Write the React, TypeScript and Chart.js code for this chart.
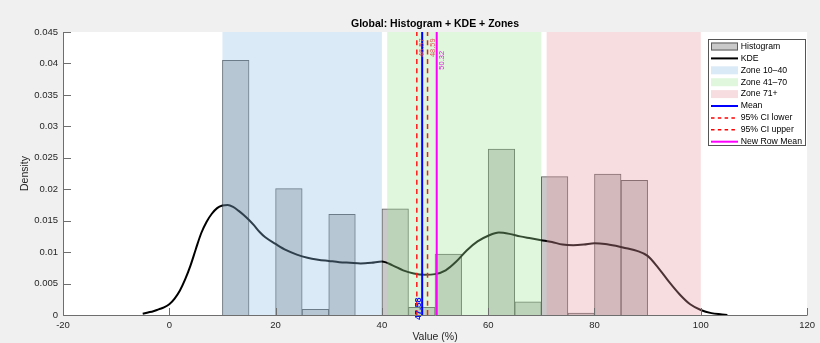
import React, { useEffect, useRef } from 'react';
import { Chart, registerables } from 'chart.js';

Chart.register(...registerables);

// ---------- data ----------
const binStarts = [10, 15, 20, 25, 30, 35, 40, 45, 50, 55, 60, 65, 70, 75, 80, 85];
const binDensity = [0.0405, 0, 0.0201, 0.0009, 0.016, 0, 0.0169, 0.0012, 0.0097, 0, 0.0264, 0.0021, 0.022, 0.0003, 0.0224, 0.0214];
const binWidth = 5;

const kdeX = [-5, -4, -3, -2, -1, 0, 1, 2, 3, 4, 5, 6, 7, 8, 9, 10, 11, 12, 13, 14, 15, 16, 17, 18, 20, 22, 24, 26, 28, 30, 32, 34, 36, 38, 40, 42, 44, 46, 48, 50, 52, 54, 56, 58, 60, 62, 64, 66, 68, 70, 72, 74, 76, 78, 80, 82, 84, 86, 88, 90, 92, 94, 96, 98, 100, 102, 104, 105];
const kdeY = [0.0002, 0.0004, 0.0006, 0.0009, 0.0012, 0.0017, 0.0026, 0.0039, 0.0057, 0.0079, 0.0105, 0.013, 0.0148, 0.0161, 0.017, 0.0174, 0.0175, 0.0172, 0.0166, 0.0159, 0.0151, 0.0142, 0.0132, 0.0124, 0.0113, 0.0103, 0.0096, 0.0091, 0.0088, 0.0086, 0.0084, 0.0083, 0.0082, 0.0083, 0.0085, 0.0079, 0.0071, 0.0066, 0.0064, 0.0065, 0.0071, 0.0085, 0.0103, 0.0117, 0.0126, 0.0131, 0.0129, 0.0125, 0.0122, 0.0119, 0.0116, 0.0112, 0.0111, 0.0112, 0.0114, 0.0113, 0.011, 0.0106, 0.0102, 0.0094, 0.0075, 0.0053, 0.0033, 0.0017, 0.0008, 0.0003, 0.0001, 0];

const zoneNames = ['Zone 10–40', 'Zone 41–70', 'Zone 71+'];
const zoneStart = [10, 41, 71];
const zoneEnd = [40, 70, 100];

const meanValue = 47.58;
const ciLower = 46.57;
const ciUpper = 48.59;
const newRowMean = 50.32;

const xTicks = [-20, 0, 20, 40, 60, 80, 100, 120];
const xTickLabels = ['-20', '0', '20', '40', '60', '80', '100', '120'];
const yTicks = [0, 0.005, 0.01, 0.015, 0.02, 0.025, 0.03, 0.035, 0.04, 0.045];
const yTickLabels = ['0', '0.005', '0.01', '0.015', '0.02', '0.025', '0.03', '0.035', '0.04', '0.045'];

const titleText = 'Global: Histogram + KDE + Zones';
const xLabel = 'Value (%)';
const yLabel = 'Density';

// ---------- styles ----------
const FONT = '"Liberation Sans", Arial, Helvetica, sans-serif';
const zoneColors = ['rgba(146,191,230,0.33)', 'rgba(161,231,155,0.33)', 'rgba(231,152,158,0.33)'];
const histFill = '#c9c9c9';
const histEdge = '#5c5c5c';
const axisColor = '#6e6e6e';
const textColor = '#262626';

export default function App() {
  const ref = useRef<HTMLCanvasElement | null>(null);

  useEffect(() => {
    document.body.style.margin = '0';
    const canvas = ref.current;
    if (!canvas) return;

    const histData = binStarts
      .map((s, i) => ({ x: s + binWidth / 2, y: binDensity[i] }))
      .filter((d) => d.y > 0);
    const kdeData = kdeX.map((x, i) => ({ x, y: kdeY[i] }));
    const yMax = yTicks[yTicks.length - 1];
    const vline = (v: number) => [{ x: v, y: 0 }, { x: v, y: yMax }];

    const drawRot = (ctx: CanvasRenderingContext2D, text: string, x: number, y: number, align: CanvasTextAlign, baseline: CanvasTextBaseline, font: string, color: string) => {
      ctx.save();
      ctx.translate(x, y);
      ctx.rotate(-Math.PI / 2);
      ctx.font = font;
      ctx.fillStyle = color;
      ctx.textAlign = align;
      ctx.textBaseline = baseline;
      ctx.fillText(text, 0, 0);
      ctx.restore();
    };

    const plugin = {
      id: 'matlabLook',
      beforeDraw(chart: any) {
        const { ctx, chartArea: a } = chart;
        ctx.save();
        ctx.fillStyle = '#f0f0f0';
        ctx.fillRect(0, 0, chart.width, chart.height);
        ctx.fillStyle = '#ffffff';
        ctx.fillRect(a.left, a.top, a.right - a.left, a.bottom - a.top);
        ctx.restore();
      },
      afterDatasetDraw(chart: any, args: any) {
        if (args.index !== 1) return;
        const { ctx } = chart;
        const xs = chart.scales.x;
        const ys = chart.scales.y;
        const top = ys.getPixelForValue(yMax);
        const bottom = ys.getPixelForValue(0);
        ctx.save();
        zoneStart.forEach((s, i) => {
          const x0 = xs.getPixelForValue(s);
          const x1 = xs.getPixelForValue(zoneEnd[i]);
          ctx.fillStyle = zoneColors[i];
          ctx.fillRect(x0, top, x1 - x0, bottom - top);
        });
        ctx.restore();
      },
      afterDatasetsDraw(chart: any) {
        const { ctx, chartArea: a } = chart;
        const xs = chart.scales.x;
        const ys = chart.scales.y;
        // line value labels
        drawRot(ctx, ciLower.toFixed(2), xs.getPixelForValue(ciLower) + 1.5, ys.getPixelForValue(0.044), 'right', 'top', `7.5px ${FONT}`, '#e05555');
        drawRot(ctx, ciUpper.toFixed(2), xs.getPixelForValue(ciUpper) + 1.5, ys.getPixelForValue(0.044), 'right', 'top', `7.5px ${FONT}`, '#e05555');
        drawRot(ctx, newRowMean.toFixed(2), xs.getPixelForValue(newRowMean) + 1.5, ys.getPixelForValue(0.042), 'right', 'top', `7.5px ${FONT}`, '#e020e0');
        drawRot(ctx, meanValue.toFixed(2), xs.getPixelForValue(meanValue) - 1.5, ys.getPixelForValue(0) + 5, 'left', 'alphabetic', `bold 9px ${FONT}`, '#1010ee');

        // axes lines and inward ticks
        ctx.save();
        ctx.strokeStyle = axisColor;
        ctx.lineWidth = 1;
        const L = Math.round(a.left) + 0.5;
        const B = Math.round(a.bottom) + 0.5;
        ctx.beginPath();
        ctx.moveTo(L, a.top);
        ctx.lineTo(L, B);
        ctx.lineTo(a.right, B);
        xTicks.forEach((v) => {
          const px = Math.round(xs.getPixelForValue(v)) + 0.5;
          ctx.moveTo(px, B);
          ctx.lineTo(px, B - 7.5);
        });
        yTicks.forEach((v) => {
          const py = Math.round(ys.getPixelForValue(v)) + 0.5;
          ctx.moveTo(L, py);
          ctx.lineTo(L + 7.5, py);
        });
        ctx.stroke();
        ctx.restore();
      },
      afterDraw(chart: any) {
        const { ctx, chartArea: a } = chart;
        const cx = (a.left + a.right) / 2;
        ctx.save();
        ctx.fillStyle = '#000';
        ctx.font = `bold 10.5px ${FONT}`;
        ctx.textAlign = 'center';
        ctx.textBaseline = 'middle';
        ctx.fillText(titleText, cx, 24);
        ctx.fillStyle = textColor;
        ctx.font = `10.5px ${FONT}`;
        ctx.fillText(xLabel, cx, 337.5);
        ctx.restore();
        drawRot(ctx, yLabel, 25, (a.top + a.bottom) / 2, 'center', 'middle', `10.5px ${FONT}`, textColor);

        // legend
        const items: { label: string; kind: string; color: string; dash?: number[] }[] = [
          { label: 'Histogram', kind: 'hist', color: histFill },
          { label: 'KDE', kind: 'line', color: '#000000' },
          ...zoneNames.map((n, i) => ({ label: n, kind: 'patch', color: zoneColors[i] })),
          { label: 'Mean', kind: 'line', color: '#0000ff' },
          { label: '95% CI lower', kind: 'dash', color: '#ff0000' },
          { label: '95% CI upper', kind: 'dash', color: '#ff0000' },
          { label: 'New Row Mean', kind: 'line', color: '#ff00ff' },
        ];
        const bx = 708.5, by = 39.5, bw = 97, bh = 106;
        const row0 = 46.5, rowH = 11.9;
        ctx.save();
        ctx.fillStyle = '#ffffff';
        ctx.fillRect(bx, by, bw, bh);
        ctx.strokeStyle = '#555555';
        ctx.lineWidth = 1;
        ctx.strokeRect(bx, by, bw, bh);
        items.forEach((it, i) => {
          const y = row0 + i * rowH;
          const x0 = 711, x1 = 738;
          if (it.kind === 'hist') {
            ctx.fillStyle = it.color;
            ctx.fillRect(x0, y - 4, x1 - x0, 8);
            ctx.strokeStyle = histEdge;
            ctx.lineWidth = 1;
            ctx.strokeRect(x0 + 0.5, y - 3.5, x1 - x0 - 1, 7);
          } else if (it.kind === 'patch') {
            ctx.fillStyle = it.color;
            ctx.fillRect(x0, y - 4, x1 - x0, 8);
          } else {
            ctx.strokeStyle = it.color;
            ctx.lineWidth = it.kind === 'dash' ? 1.5 : 2;
            ctx.setLineDash(it.kind === 'dash' ? [3.5, 3.3] : []);
            ctx.beginPath();
            ctx.moveTo(x0, y);
            ctx.lineTo(x1, y);
            ctx.stroke();
            ctx.setLineDash([]);
          }
          ctx.fillStyle = '#000000';
          ctx.font = `8.7px ${FONT}`;
          ctx.textAlign = 'left';
          ctx.textBaseline = 'middle';
          ctx.fillText(it.label, 740.7, y);
        });
        ctx.restore();
      },
    };

    const chart = new Chart(canvas, {
      type: 'bar',
      data: {
        datasets: [
          {
            type: 'bar',
            label: 'Histogram',
            data: histData as any,
            backgroundColor: histFill,
            borderColor: histEdge,
            borderWidth: 1,
            barPercentage: 1,
            categoryPercentage: 1,
            order: 10,
          },
          {
            type: 'line',
            label: 'KDE',
            data: kdeData as any,
            borderColor: '#000000',
            borderWidth: 2,
            pointRadius: 0,
            fill: false,
            cubicInterpolationMode: 'monotone',
            order: 9,
          },
          {
            type: 'line',
            label: '95% CI lower',
            data: vline(ciLower) as any,
            borderColor: '#ff1a1a',
            borderWidth: 1.5,
            borderDash: [5, 4.3],
            pointRadius: 0,
            fill: false,
            order: 4,
          },
          {
            type: 'line',
            label: '95% CI upper',
            data: vline(ciUpper) as any,
            borderColor: '#ff1a1a',
            borderWidth: 1.5,
            borderDash: [5, 4.3],
            pointRadius: 0,
            fill: false,
            order: 3,
          },
          {
            type: 'line',
            label: 'Mean',
            data: vline(meanValue) as any,
            borderColor: '#0000ff',
            borderWidth: 2,
            pointRadius: 0,
            fill: false,
            order: 2,
          },
          {
            type: 'line',
            label: 'New Row Mean',
            data: vline(newRowMean) as any,
            borderColor: '#ff00ff',
            borderWidth: 2,
            pointRadius: 0,
            fill: false,
            order: 1,
          },
        ],
      },
      options: {
        animation: false,
        responsive: false,
        devicePixelRatio: 1,
        layout: { padding: { top: 32, right: 10, left: 0, bottom: 0 } },
        plugins: {
          legend: { display: false },
          title: { display: false },
          tooltip: { enabled: false },
        },
        scales: {
          x: {
            type: 'linear',
            min: xTicks[0],
            max: xTicks[xTicks.length - 1],
            offset: false,
            grid: { display: false, drawTicks: false },
            border: { display: false },
            afterBuildTicks: (s: any) => {
              s.ticks = xTicks.map((v) => ({ value: v }));
            },
            ticks: {
              autoSkip: false,
              maxRotation: 0,
              padding: 5,
              color: textColor,
              font: { family: FONT, size: 9.5 },
              callback: (_v: any, i: number) => xTickLabels[i],
            },
            afterFit: (s: any) => {
              s.height = 28;
            },
          },
          y: {
            type: 'linear',
            min: 0,
            max: yMax,
            grid: { display: false, drawTicks: false },
            border: { display: false },
            afterBuildTicks: (s: any) => {
              s.ticks = yTicks.map((v) => ({ value: v }));
            },
            ticks: {
              autoSkip: false,
              padding: 5,
              color: textColor,
              font: { family: FONT, size: 9.5 },
              callback: (_v: any, i: number) => yTickLabels[i],
            },
            afterFit: (s: any) => {
              s.width = 63;
            },
          },
        },
      } as any,
      plugins: [plugin as any],
    });

    return () => chart.destroy();
  }, []);

  return (
    <div style={{ width: 820, height: 343 }}>
      <canvas ref={ref} width={820} height={343} style={{ display: 'block', width: 820, height: 343 }} />
    </div>
  );
}
